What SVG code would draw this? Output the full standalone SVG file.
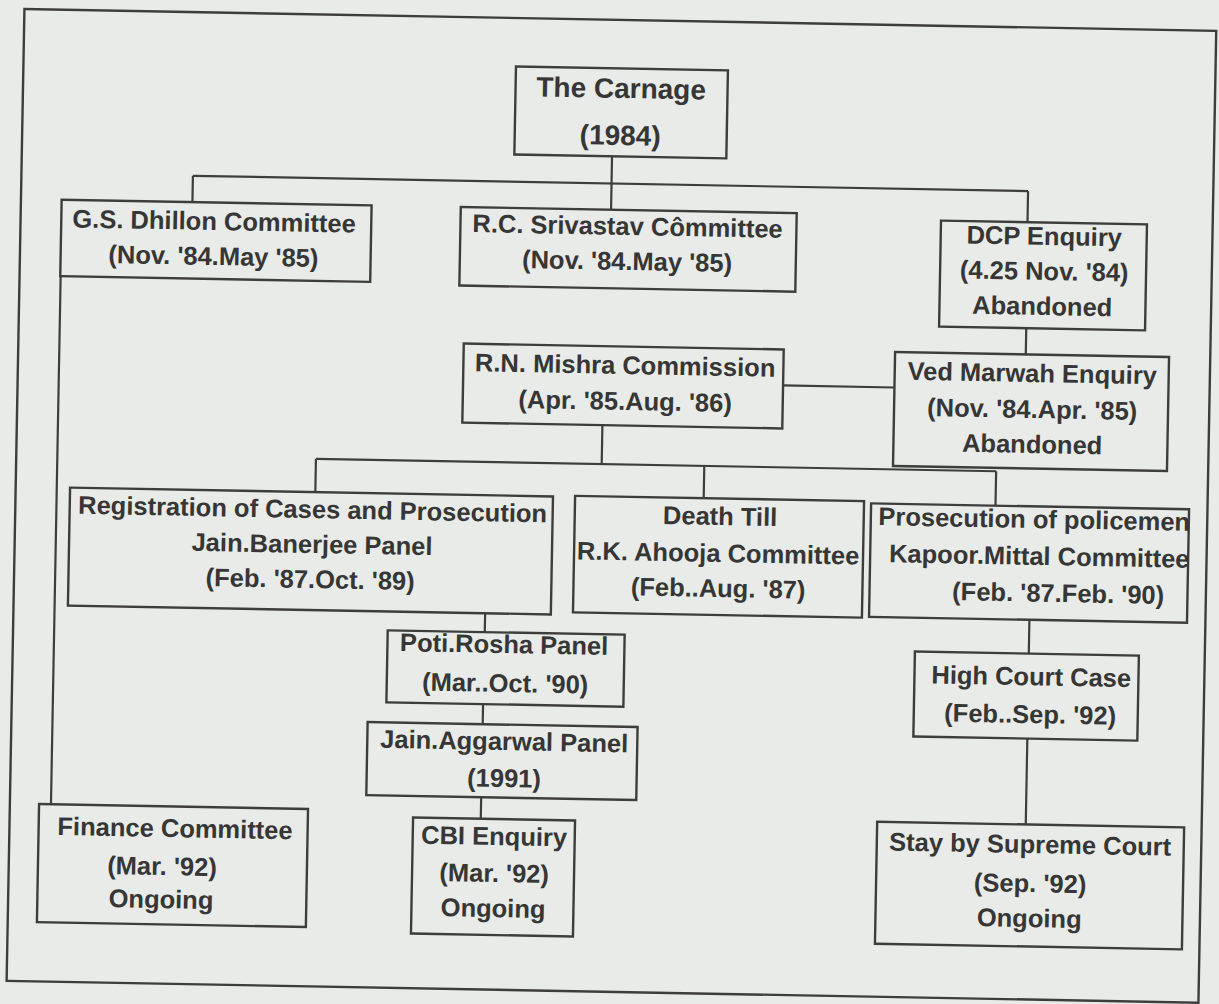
<svg xmlns="http://www.w3.org/2000/svg" width="1219" height="1004" viewBox="0 0 1219 1004">
<style>
 .bg{fill:#e8ebe7}
 .box{fill:none;stroke:#3d3d3d;stroke-width:2.4}
 .frame{fill:none;stroke:#3d3d3d;stroke-width:2.4}
 .con line{stroke:#3d3d3d;stroke-width:2.2;fill:none}
 text{font-family:"Liberation Sans",Arial,sans-serif;font-weight:bold;font-size:25.5px;fill:#363636;text-anchor:middle}
 .big{font-size:28px}
</style>
<rect class="bg" width="1219" height="1004"/>
<g transform="rotate(1.05 610 502)">
<rect class="frame" x="15.5" y="19.8" width="1192" height="972"/>
<g id="connectors" class="con">
 <line x1="605.7" y1="156.3" x2="605.7" y2="209.8"/>
 <line x1="187" y1="183.5" x2="1022.3" y2="183.5"/>
 <line x1="187" y1="183.5" x2="187" y2="209.8"/>
 <line x1="1022.3" y1="183.5" x2="1022.3" y2="214.6"/>
 <line x1="1023" y1="320.6" x2="1023" y2="346.8"/>
 <line x1="780.9" y1="382.3" x2="892.3" y2="382.3"/>
 <line x1="601" y1="425.3" x2="601" y2="464.2"/>
 <line x1="315.2" y1="464.2" x2="995.5" y2="464.2"/>
 <line x1="315.2" y1="464.2" x2="315.2" y2="497.5"/>
 <line x1="703.6" y1="464.2" x2="703.6" y2="496.5"/>
 <line x1="995.5" y1="464.2" x2="995.5" y2="498.6"/>
 <line x1="487.2" y1="615.5" x2="487.2" y2="634.4"/>
 <line x1="486.8" y1="706.4" x2="486.8" y2="726.5"/>
 <line x1="486.6" y1="799.5" x2="486.6" y2="821.1"/>
 <line x1="56.6" y1="286.3" x2="56.6" y2="814.5"/>
 <line x1="1031.5" y1="612.1" x2="1031.5" y2="645.9"/>
 <line x1="1031.6" y1="730.9" x2="1031.6" y2="816.8"/>
</g>
<g id="carnage">
 <rect class="box" x="508" y="68.3" width="212" height="88"/>
 <text class="big" x="613.6" y="97.8">The Carnage</text>
 <text class="big" x="613.5" y="144.8">(1984)</text>
</g>
<g id="dhillon">
 <rect class="box" x="56.2" y="209.8" width="310" height="76.5"/>
 <text x="209" y="237.3">G.S. Dhillon Committee</text>
 <text x="209" y="272.3">(Nov. '84.May '85)</text>
</g>
<g id="srivastav">
 <rect class="box" x="455.4" y="209.8" width="336" height="78.5"/>
 <text x="622.5" y="234.7">R.C. Srivastav Cômmittee</text>
 <text x="622.7" y="269.7">(Nov. '84.May '85)</text>
</g>
<g id="dcp">
 <rect class="box" x="935.8" y="214.6" width="206" height="106"/>
 <text x="1039.3" y="237">DCP Enquiry</text>
 <text x="1039.9" y="272">(4.25 Nov. '84)</text>
 <text x="1038.6" y="307.1">Abandoned</text>
</g>
<g id="mishra">
 <rect class="box" x="460.9" y="346.3" width="320" height="79"/>
 <text x="622.7" y="373.7">R.N. Mishra Commission</text>
 <text x="623.3" y="409.7">(Apr. '85.Aug. '86)</text>
</g>
<g id="marwah">
 <rect class="box" x="892.3" y="346.8" width="274" height="114"/>
 <text x="1029.8" y="374.3">Ved Marwah Enquiry</text>
 <text x="1030.5" y="410.3">(Nov. '84.Apr. '85)</text>
 <text x="1031.1" y="445.3">Abandoned</text>
</g>
<g id="registration">
 <rect class="box" x="69.9" y="497.5" width="483" height="118"/>
 <text x="312.8" y="523.5">Registration of Cases and Prosecution</text>
 <text x="312.9" y="558.5">Jain.Banerjee Panel</text>
 <text x="311.6" y="593.5">(Feb. '87.Oct. '89)</text>
</g>
<g id="deathtill">
 <rect class="box" x="575" y="496.5" width="289" height="116.5"/>
 <text x="720.4" y="523">Death Till</text>
 <text x="719.1" y="560">R.K. Ahooja Committee</text>
 <text x="719.7" y="595">(Feb..Aug. '87)</text>
</g>
<g id="prosecution">
 <rect class="box" x="871.1" y="498.6" width="318" height="113.5"/>
 <text x="1034.5" y="520.2">Prosecution of policemen</text>
 <text x="1040.2" y="557.1">Kapoor.Mittal Committee</text>
 <text x="1059.8" y="593.8">(Feb. '87.Feb. '90)</text>
</g>
<g id="potirosha">
 <rect class="box" x="390.1" y="634.4" width="237" height="72"/>
 <text x="506.8" y="654.9">Poti.Rosha Panel</text>
 <text x="508.5" y="693.9">(Mar..Oct. '90)</text>
</g>
<g id="jainaggarwal">
 <rect class="box" x="371.7" y="726.5" width="270" height="73"/>
 <text x="508.6" y="752">Jain.Aggarwal Panel</text>
 <text x="509.2" y="789">(1991)</text>
</g>
<g id="cbi">
 <rect class="box" x="418.9" y="821.1" width="162" height="116"/>
 <text x="500.3" y="847.1">CBI Enquiry</text>
 <text x="501" y="884.1">(Mar. '92)</text>
 <text x="500.6" y="919.1">Ongoing</text>
</g>
<g id="finance">
 <rect class="box" x="44.7" y="814.5" width="269" height="118"/>
 <text x="181.1" y="845">Finance Committee</text>
 <text x="168.8" y="883.2">(Mar. '92)</text>
 <text x="168.4" y="916.2">Ongoing</text>
</g>
<g id="highcourt">
 <rect class="box" x="917.6" y="645.9" width="224" height="85"/>
 <text x="1034.4" y="677.5">High Court Case</text>
 <text x="1034" y="715.3">(Feb..Sep. '92)</text>
</g>
<g id="supremecourt">
 <rect class="box" x="883" y="816.8" width="307" height="122"/>
 <text x="1036.4" y="845.3">Stay by Supreme Court</text>
 <text x="1037.1" y="884.3">(Sep. '92)</text>
 <text x="1036.8" y="919.3">Ongoing</text>
</g>
</g>
</svg>
